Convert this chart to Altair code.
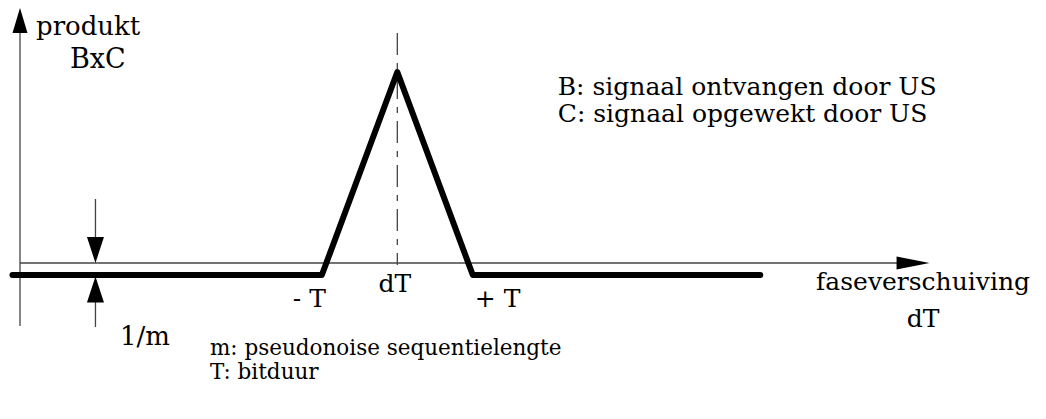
import altair as alt
import pandas as pd

# Diagram units: x in bit durations T (dT = 0 at the peak), y in product B x C (peak = 1)
sig_x = [-5.1, -1.0, 0.0, 1.0, 4.81]
sig_y = [-0.063, -0.063, 1.0, -0.063, -0.063]

# thin lines: y-axis, x-axis, 1/m dimension lines
rule_x = [-5.0, -5.0, -4.0, -4.0]
rule_x2 = [-5.0, 6.66, -4.0, -4.0]
rule_y = [1.204, 0.0, 0.335, -0.141]
rule_y2 = [-0.33, 0.0, 0.12, -0.335]

# dashed centre line at dT
dash_x = [0.0]
dash_y = [1.204]
dash_y2 = [-0.01]

# arrow heads (centre positions)
arrow_up_x = [-5.0]
arrow_up_y = [1.27]
arrow_right_x = [6.834]
arrow_right_y = [0.0]
dim_down_x = [-4.0]
dim_down_y = [0.068]
dim_up_x = [-4.0]
dim_up_y = [-0.139]

# labels
left_text = ["produkt", "BxC", "B: signaal ontvangen door US", "C: signaal opgewekt door US",
             "- T", "+ T", "1/m", "m: pseudonoise sequentielengte", "T: bitduur"]
left_x = [-4.788, -4.338, 2.126, 2.126, -1.384, 1.026, -3.675, -2.483, -2.483]
left_y = [1.194, 1.021, 0.880, 0.738, -0.230, -0.233, -0.429, -0.484, -0.607]
left_fs = [26, 27, 25, 25, 25, 25, 26, 21.5, 21.5]

center_text = ["dT", "faseverschuiving", "dT"]
center_x = [-0.033, 6.967, 6.967]
center_y = [-0.152, -0.141, -0.335]
center_fs = [25, 25, 25]

X_DOM = [-5.159, 8.490]
Y_DOM = [-0.7749, 1.3351]
xs = alt.Scale(domain=X_DOM, nice=False, zero=False)
ys = alt.Scale(domain=Y_DOM, nice=False, zero=False)
FONT = "DejaVu Serif"
GREY = "#444444"

sig = pd.DataFrame({"x": sig_x, "y": sig_y, "i": list(range(len(sig_x)))})
rules = pd.DataFrame({"x": rule_x, "x2": rule_x2, "y": rule_y, "y2": rule_y2})
dash = pd.DataFrame({"x": dash_x, "y": dash_y, "y2": dash_y2})
ltxt = pd.DataFrame({"t": left_text, "x": left_x, "y": left_y, "fs": left_fs})
ctxt = pd.DataFrame({"t": center_text, "x": center_x, "y": center_y, "fs": center_fs})

def X(f="x"):
    return alt.X(f"{f}:Q", scale=xs, axis=None)

def Y(f="y"):
    return alt.Y(f"{f}:Q", scale=ys, axis=None)

signal = alt.Chart(sig).mark_line(color="black", strokeWidth=6, strokeCap="round",
                                  strokeJoin="round").encode(
    x=X(), y=Y(), order="i:Q")

thin = alt.Chart(rules).mark_rule(color=GREY, strokeWidth=1.3).encode(
    x=X(), x2="x2:Q", y=Y(), y2="y2:Q")

centre = alt.Chart(dash).mark_rule(color=GREY, strokeWidth=1.3,
                                   strokeDash=[22, 8, 6, 8]).encode(
    x=X(), y=Y(), y2="y2:Q")

def head(xv, yv, path, size, angle):
    df = pd.DataFrame({"x": xv, "y": yv})
    return alt.Chart(df).mark_point(shape=path, size=size, filled=True, color="black",
                                    opacity=1, strokeWidth=0, angle=angle).encode(
        x=X(), y=Y())

h_yaxis = head(arrow_up_x, arrow_up_y, "M-1,-0.6L1,0L-1,0.6Z", 625, 270)
h_xaxis = head(arrow_right_x, arrow_right_y, "M-1,-0.394L1,0L-1,0.394Z", 1089, 0)
h_dim1 = head(dim_down_x, dim_down_y, "M-1,-0.654L1,0L-1,0.654Z", 676, 90)
h_dim2 = head(dim_up_x, dim_up_y, "M-1,-0.654L1,0L-1,0.654Z", 676, 270)

tl = alt.Chart(ltxt).mark_text(font=FONT, align="left", baseline="alphabetic",
                               color="black").encode(
    x=X(), y=Y(), text="t:N", size=alt.Size("fs:Q", scale=None, legend=None))
tc = alt.Chart(ctxt).mark_text(font=FONT, align="center", baseline="alphabetic",
                               color="black").encode(
    x=X(), y=Y(), text="t:N", size=alt.Size("fs:Q", scale=None, legend=None))

chart = alt.layer(thin, centre, signal, h_yaxis, h_xaxis, h_dim1, h_dim2, tl, tc).properties(
    width=1030, height=403, background="white", padding=0,
    autosize=alt.AutoSizeParams(type="none")
).configure_view(stroke=None)

chart.save("out.html", embed_options={"renderer": "svg", "actions": False})
